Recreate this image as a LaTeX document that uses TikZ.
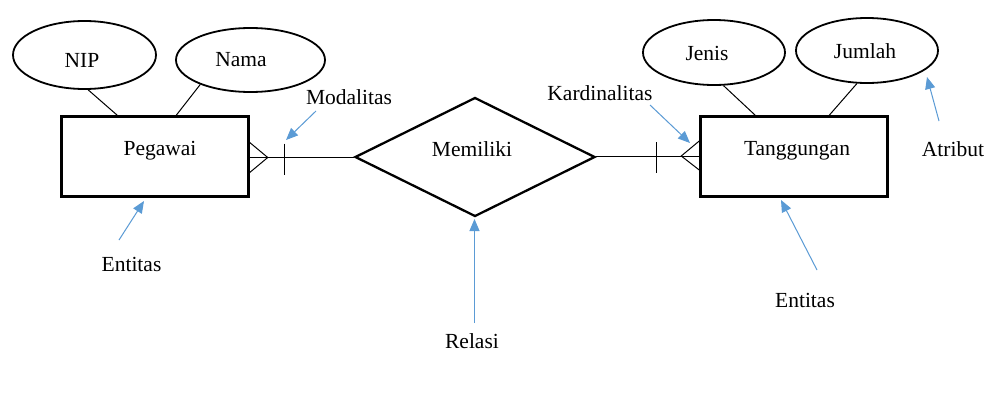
\documentclass[tikz,border=0pt]{standalone}
\usepackage{fontspec}
\setmainfont{Liberation Serif}
\usetikzlibrary{shapes.geometric,arrows.meta,calc}
\definecolor{notecol}{HTML}{5B9BD5}
\begin{document}
\begin{tikzpicture}[x=1pt,y=-1pt,
  font=\fontsize{21.5}{25}\selectfont,
  entbox/.style={draw, line width=2.5pt, minimum width=187pt, minimum height=80pt, inner sep=0pt},
  attr/.style={draw, ellipse, line width=1.8pt, inner sep=0pt},
  relshape/.style={draw, diamond, line width=2.3pt, minimum width=240pt, minimum height=119pt, inner sep=0pt},
  conn/.style={line width=1pt},
  note/.style={draw=notecol, line width=1pt, -{Triangle[length=12pt,width=10pt]}},
  txt/.style={inner sep=0pt, anchor=base}]
\useasboundingbox[fill=white] (0,0) rectangle (1002,407);

% entities
\node[entbox] (peg) at (155,156.5) {};
\node[entbox] (tang) at (794,156.5) {};
\node[txt] (pegT) at (160,155) {Pegawai};
\node[txt] (tangT) at (797,155) {Tanggungan};

% relation
\node[relshape] (rel) at (475,157) {};
\node[txt] (relT) at (472,156) {Memiliki};

% attributes
\node[attr, minimum width=143pt, minimum height=68pt] (nip) at (84.5,55) {};
\node[txt] (nipT) at (82,67) {NIP};
\node[attr, minimum width=149pt, minimum height=64pt] (nama) at (250.5,60) {};
\node[txt] (namaT) at (241,66) {Nama};
\node[attr, minimum width=142pt, minimum height=65pt] (jenis) at (714,52.5) {};
\node[txt] (jenisT) at (707,60) {Jenis};
\node[attr, minimum width=142pt, minimum height=65pt] (jumlah) at (867,50.5) {};
\node[txt] (jumlahT) at (865,58) {Jumlah};

% attribute links
\draw[conn] (nip.-84) -- ($(peg.north west)+(57,0)$);
\draw[conn] (nama.206) -- ($(peg.north west)+(116,0)$);
\draw[conn] (jenis.-74) -- ($(tang.north west)+(56,0)$);
\draw[conn] (jumlah.-107) -- ($(tang.north west)+(130,0)$);

% relationship lines with crow's feet
\coordinate (pegE) at ($(peg.east)+(0,1)$);
\draw[conn] (pegE) -- (pegE -| rel.west);
\draw[conn] ($(pegE)+(0,-15)$) -- ($(pegE)+(18,0)$) -- ($(pegE)+(0,15)$);
\draw[conn] ($(pegE)+(35,-14)$) -- ($(pegE)+(35,17)$);

\coordinate (tangW) at ($(tang.west)+(0,-0.5)$);
\draw[conn] (tangW -| rel.east) -- (tangW);
\draw[conn] ($(tangW)+(0,-15)$) -- ($(tangW)+(-18,0)$) -- ($(tangW)+(0,14)$);
\draw[conn] ($(tangW)+(-43,-14)$) -- ($(tangW)+(-43,17)$);

% annotation labels
\node[txt] (modT) at (349,104) {Modalitas};
\node[txt] (karT) at (600,100) {Kardinalitas};
\node[txt] (atrT) at (953,156) {Atribut};
\node[txt] (ent1T) at (131.5,271) {Entitas};
\node[txt] (ent2T) at (805,307) {Entitas};
\node[txt] (relasiT) at (472,348) {Relasi};

% annotation arrows
\coordinate (modA) at (316,111);  \coordinate (modB) at (286,140);
\coordinate (karA) at (650,105);  \coordinate (karB) at (690,143);
\coordinate (atrA) at (939,121);  \coordinate (atrB) at (927,77);
\coordinate (e1A) at (119,240);   \coordinate (e1B) at (144,201);
\coordinate (e2A) at (817,270);   \coordinate (e2B) at (781,200);
\coordinate (reA) at (474.5,323); \coordinate (reB) at (474.5,219);
\draw[note] (modA) -- (modB);
\draw[note] (karA) -- (karB);
\draw[note] (atrA) -- (atrB);
\draw[note] (e1A) -- (e1B);
\draw[note] (e2A) -- (e2B);
\draw[note] (reA) -- (reB);
\end{tikzpicture}
\end{document}
